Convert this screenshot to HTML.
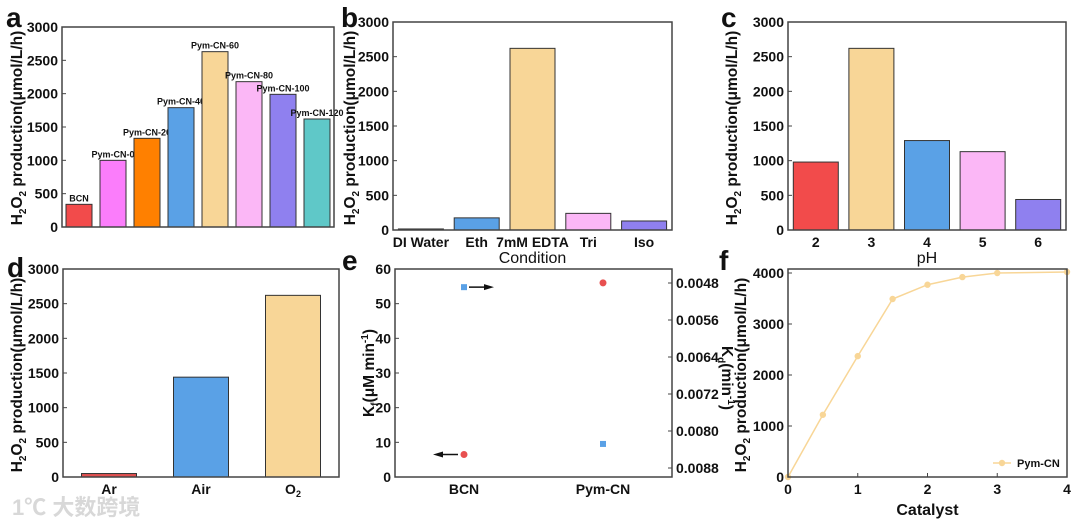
<!DOCTYPE html>
<html><head><meta charset="utf-8"><style>
body{margin:0;background:#fff}
svg{display:block;font-family:"Liberation Sans",Arial,sans-serif;font-weight:bold}
</style></head><body>
<svg id="s" width="1080" height="526" viewBox="0 0 1080 526" xmlns="http://www.w3.org/2000/svg"></svg>
<script>
const aCats=["BCN","Pym-CN-0","Pym-CN-20","Pym-CN-40","Pym-CN-60","Pym-CN-80","Pym-CN-100","Pym-CN-120"];
const aVals=[340,1000,1330,1790,2630,2180,1990,1620];
const aColors=["#f24b4b","#fb7dfb","#ff8000","#5aa1e6","#f8d697","#fbb7f6","#8f80ef","#5fc8c8"];
const bCats=["DI Water","Eth","7mM EDTA","Tri","Iso"];
const bVals=[15,175,2620,240,130];
const bColors=["#6b2b2b","#5aa1e6","#f8d697","#fbb7f6","#8f80ef"];
const cCats=["2","3","4","5","6"];
const cVals=[980,2620,1290,1130,440];
const cColors=["#f24b4b","#f8d697","#5aa1e6","#fbb7f6","#8f80ef"];
const dCats=["Ar","Air","O2"];
const dVals=[50,1440,2620];
const dColors=["#e05050","#5aa1e6","#f8d697"];
const barTicks=[0,500,1000,1500,2000,2500,3000];
const eCats=["BCN","Pym-CN"];
const eKf=[6.5,56];
const eKd=[0.00489,0.00828];
const eLeftTicks=[0,10,20,30,40,50,60];
const eRightTicks=[0.0048,0.0056,0.0064,0.0072,0.0080,0.0088];
const eRightLabels=["0.0048","0.0056","0.0064","0.0072","0.0080","0.0088"];
const fX=[0,0.5,1,1.5,2,2.5,3,4];
const fY=[0,1220,2370,3490,3770,3920,4000,4020];
const fXTicks=[0,1,2,3,4];
const fYTicks=[0,1000,2000,3000,4000];

const S=document.getElementById('s');
const NS="http://www.w3.org/2000/svg";
function el(tag,at,parent){const e=document.createElementNS(NS,tag);for(const k in at)e.setAttribute(k,at[k]);(parent||S).appendChild(e);return e;}
function txt(x,y,s,size,anchor,parent){const t=el('text',{x:x,y:y,'font-size':size,'text-anchor':anchor||'middle',fill:'#111'},parent);t.textContent=s;return t;}
function group(name){const g=el('g',{});return g;}
function yTitle(g,cx,cy,rot){
  const t=el('text',{x:0,y:0,'font-size':15.5,'text-anchor':'middle',fill:'#111',transform:`translate(${cx},${cy}) rotate(${rot||-90})`},g);
  
  t.innerHTML='H<tspan font-size="10" dy="4">2</tspan><tspan dy="-4">O</tspan><tspan font-size="10" dy="4">2</tspan><tspan dy="-4"> production(μmol/L/h)</tspan>';
}
function frame(g,x0,x1,y0,y1){const r=el('rect',{x:x0,y:y0,width:x1-x0,height:y1-y0,fill:'none',stroke:'#444','stroke-width':1.5},g);}
function letter(g,x,y,s){const t=txt(x,y,s,28,'start',g);}

function barPanel(name,cats,vals,colors,box,barW,xlab,catLabels){
  const g=group(name);
  const [x0,x1,y0,y1]=box;
  const ys=v=>y1-(v/3000)*(y1-y0);
  const step=(x1-x0)/cats.length;
  barTicks.forEach(t=>{
    const y=ys(t);
    el('line',{x1:x0,x2:x0+4,y1:y,y2:y,stroke:'#444','stroke-width':1},g);
    const lb=txt(x0-4,y+5,String(t),14,'end',g);
    
  });
  cats.forEach((c,i)=>{
    const cx=x0+step*(i+0.5);
    const r=el('rect',{x:cx-barW/2,y:ys(vals[i]),width:barW,height:y1-ys(vals[i]),fill:colors[i],stroke:'#333','stroke-width':1},g);
    
    
    if(catLabels){
      const l=txt(cx,ys(vals[i])-3,c,9,'middle',g);
      
    }else{
      const l=txt(cx,y1+17,c==='O2'?'O':c,14,'middle',g);
      if(c==='O2'){l.innerHTML='O<tspan font-size="9" dy="3">2</tspan>';}
      
    }
  });
  frame(g,x0,x1,y0,y1);
  if(xlab){const t=txt((x0+x1)/2,y1+33,xlab,16,'middle',g);t.style.fontWeight='normal';}
  return g;
}

const ga=barPanel('panel-a',aCats,aVals,aColors,[62,334,27,227],26,null,true);
letter(ga,6,27,'a');yTitle(ga,22,128);
const gb=barPanel('panel-b',bCats,bVals,bColors,[393,672,22,230],45,'Condition',false);
letter(gb,341,27,'b');yTitle(gb,355,128);
const gc=barPanel('panel-c',cCats,cVals,cColors,[788,1066,22,230],45,'pH',false);
letter(gc,721,27,'c');yTitle(gc,737,128);
const gd=barPanel('panel-d',dCats,dVals,dColors,[63,339,269,477],55,null,false);
letter(gd,7,277,'d');yTitle(gd,22,375);

// panel e
(function(){
  const g=group('panel-e');
  const x0=395,x1=672,y0=269,y1=477;
  const yl=v=>y1-(v/60)*(y1-y0);
  const yr=v=>283+(v-0.0048)/0.0008*37;
  const xs=i=>[464,603][i];
  eLeftTicks.forEach(t=>{const y=yl(t);el('line',{x1:x0,x2:x0+4,y1:y,y2:y,stroke:'#444'},g);const l=txt(x0-4,y+5,String(t),14,'end',g);});
  eRightTicks.forEach((t,i)=>{const y=yr(t);el('line',{x1:x1-4,x2:x1,y1:y,y2:y,stroke:'#444'},g);const l=txt(x1+4,y+5,eRightLabels[i],14,'start',g);});
  eCats.forEach((c,i)=>{
    const l=txt(xs(i),y1+17,c,14,'middle',g);
    const p=el('circle',{cx:xs(i),cy:yl(eKf[i]),r:3.5,fill:'#e85050'},g);
    
    const q=el('rect',{x:xs(i)-3,y:yr(eKd[i])-3,width:6,height:6,fill:'#5aa1e6'},g);
    
  });
  const ar1=el('g',{},g);
  const ay=yr(eKd[0]);
  el('line',{x1:xs(0)+5,x2:xs(0)+24,y1:ay,y2:ay,stroke:'#111','stroke-width':1.5},ar1);
  el('polygon',{points:`${xs(0)+30},${ay} ${xs(0)+20},${ay-3} ${xs(0)+20},${ay+3}`,fill:'#111'},ar1);
  const ar2=el('g',{},g);
  const by=yl(eKf[0]);
  el('line',{x1:xs(0)-6,x2:xs(0)-24,y1:by,y2:by,stroke:'#111','stroke-width':1.5},ar2);
  el('polygon',{points:`${xs(0)-31},${by} ${xs(0)-21},${by-3} ${xs(0)-21},${by+3}`,fill:'#111'},ar2);
  frame(g,x0,x1,y0,y1);
  letter(g,342,270,'e');
  const t=el('text',{x:0,y:0,'font-size':15.5,'text-anchor':'middle',fill:'#111',transform:'translate(374,373) rotate(-90)'},g);
  
  t.innerHTML='K<tspan font-size="10" dy="4">f</tspan><tspan dy="-4">(μM min</tspan><tspan font-size="10" dy="-6">-1</tspan><tspan dy="6">)</tspan>';
  const t2=el('text',{x:0,y:0,'font-size':15.5,'text-anchor':'middle',fill:'#111',transform:'translate(722,378) rotate(90)'},g);
  
  t2.innerHTML='K<tspan font-size="10" dy="4">d</tspan><tspan dy="-4">(min</tspan><tspan font-size="10" dy="-6">-1</tspan><tspan dy="6">)</tspan>';
})();

// panel f
(function(){
  const g=group('panel-f');
  const x0=788,x1=1067,y0=269,y1=477;
  const xs=v=>x0+v/4*(x1-x0);
  const ys=v=>y1-v/4000*(y1-273);
  fYTicks.forEach(t=>{const y=ys(t);el('line',{x1:x0,x2:x0+4,y1:y,y2:y,stroke:'#444'},g);const l=txt(x0-4,y+5,String(t),14,'end',g);});
  fXTicks.forEach(t=>{const x=xs(t);el('line',{x1:x,x2:x,y1:y1,y2:y1-4,stroke:'#444'},g);const l=txt(x,y1+17,String(t),14,'middle',g);});
  const pts=fX.map((x,i)=>xs(x)+','+ys(fY[i])).join(' ');
  const pl=el('polyline',{points:pts,fill:'none',stroke:'#f8d697','stroke-width':1.5},g);
  
  fX.forEach((x,i)=>{const c=el('circle',{cx:xs(x),cy:ys(fY[i]),r:3.2,fill:'#f8d697'},g);});
  const lg=el('g',{},g);
  el('line',{x1:993,x2:1011,y1:463,y2:463,stroke:'#f8d697','stroke-width':1.5},lg);
  el('circle',{cx:1002,cy:463,r:3.2,fill:'#f8d697'},lg);
  txt(1017,467,'Pym-CN',11,'start',lg);
  frame(g,x0,x1,y0,y1);
  letter(g,719,270,'f');
  yTitle(g,746,375);
  const xt=txt((x0+x1)/2,515,'Catalyst',16,'middle',g);
})();

const wm=el('text',{x:12,y:515,'font-size':22,fill:'#d8d8d8','font-family':'"Liberation Sans","Noto Sans CJK SC",sans-serif'});

wm.textContent='1℃ 大数跨境';
</script>
</body></html>
